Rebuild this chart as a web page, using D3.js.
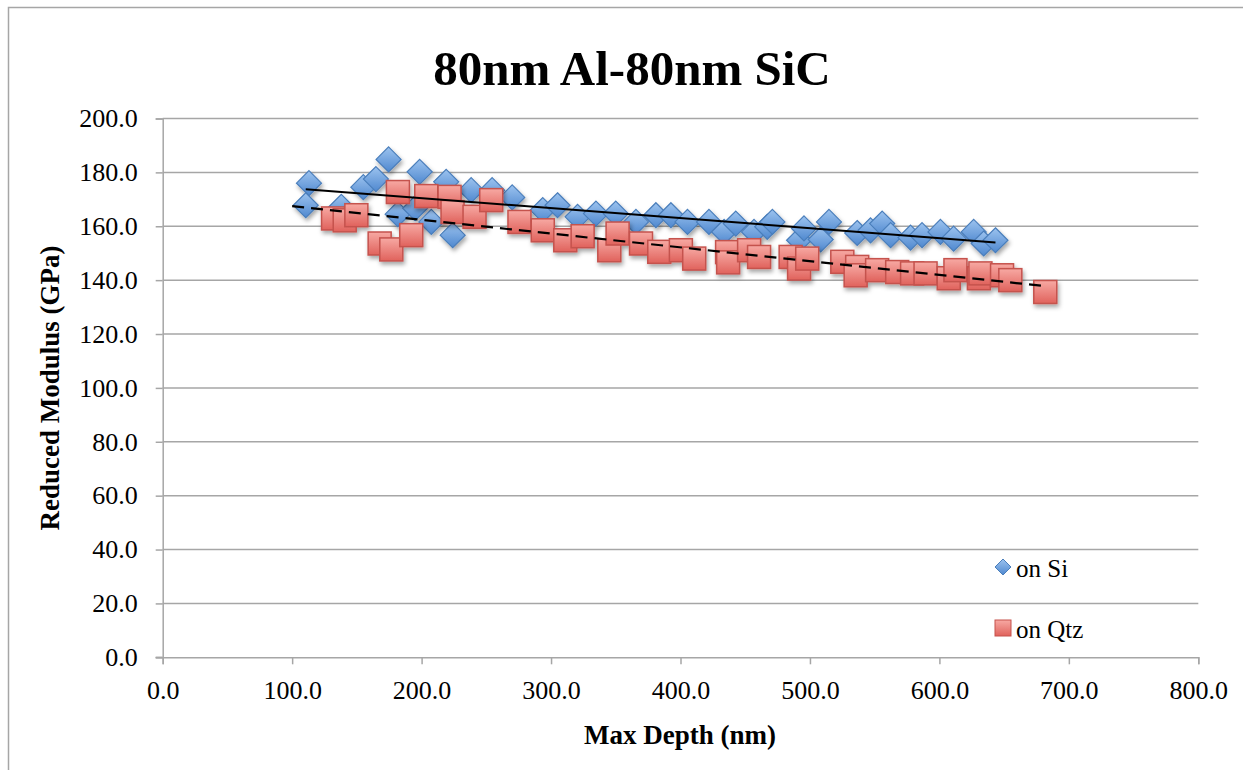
<!DOCTYPE html>
<html>
<head>
<meta charset="utf-8">
<script src="https://cdn.jsdelivr.net/npm/d3@7"></script>
<style>
  html, body { margin: 0; padding: 0; background: #fff; }
  svg { display: block; }
  text { font-family: "Liberation Serif", "Times New Roman", serif; fill: #000; }
</style>
</head>
<body>
<svg id="chart" width="1243" height="770"></svg>
<script>
// Reduced modulus vs. maximum indentation depth, two substrates
const chartTitle = "80nm Al-80nm SiC";
const xTitle = "Max Depth (nm)";
const yTitle = "Reduced Modulus (GPa)";
const seriesNames = ["on Si", "on Qtz"];

const siDepth = [113, 110.5, 138, 155, 164.7, 174.5, 181.5, 195, 198.5, 207.5, 219, 224, 238.3, 254.5, 270,
  293.6, 305, 320.5, 334.7, 350, 365.6, 381, 392.6, 405.4, 422, 433.7, 442.7, 456.8, 467, 471, 491.6,
  495.4, 508.3, 514.7, 536.5, 546.8, 555.8, 562.3, 577.7, 586.6, 600.8, 611, 626.5, 634.2, 643.3];
const siModulus = [176, 167.8, 167.2, 174.5, 177.5, 184.8, 164.5, 166.7, 180.2, 161.6, 176.5, 156.7, 173.4, 173.4, 170.7,
  166, 167.8, 163.5, 164.7, 164.7, 161.6, 164.1, 164.1, 161.6, 161.6, 157.9, 161, 157.9, 159.8, 161.6, 154.8,
  159.2, 155.1, 161.6, 157.5, 158.5, 161, 156.7, 155.8, 156.7, 157.9, 155.4, 157.9, 153.6, 154.8];

const qtzDepth = [131.6, 140.6, 149.6, 167.6, 176.6, 181.7, 192, 203.6, 221.6, 223.9, 240.9, 253.8, 275.6, 293.6,
  311, 324.4, 345, 351.4, 369.5, 383.6, 400.3, 410.6, 436, 436.8, 453, 460.7, 485.1, 491.6, 497.9, 525,
  536.5, 535.3, 551.9, 567.4, 578.9, 589.3, 607.2, 612.4, 630.5, 631.7, 648.4, 654.8, 681.8];
const qtzModulus = [162.9, 162.2, 164.1, 153.6, 151.4, 172.7, 156.7, 171.2, 170.9, 165.3, 163.5, 169.7, 161.6, 158.5,
  154.8, 156.3, 151.1, 157.3, 153.6, 150.5, 151.1, 148, 150.4, 146.6, 151.1, 148.6, 148.6, 144.3, 148, 146.8,
  144.9, 141.8, 143.7, 143, 142.5, 142.5, 140.7, 143.7, 140.7, 142.5, 141.8, 140, 135.6];

// Linear trendline spans (nm); the quartz fit is extended backward to 100 nm
const siTrendSpan = [110.5, 643.3];
const qtzTrendSpan = [100, 681.8];

const xTicks = [0, 100, 200, 300, 400, 500, 600, 700, 800];
const yTicks = [0, 20, 40, 60, 80, 100, 120, 140, 160, 180, 200];

const svg = d3.select("#chart");
const defs = svg.append("defs");

function gradient(id, top, bottom) {
  const g = defs.append("linearGradient").attr("id", id)
    .attr("x1", 0).attr("y1", 0).attr("x2", 0).attr("y2", 1);
  g.append("stop").attr("offset", "0%").attr("stop-color", top);
  g.append("stop").attr("offset", "100%").attr("stop-color", bottom);
}
gradient("blueFill", "#9cc3ef", "#4f88cf");
gradient("redFill", "#f7a9a3", "#e0625c");

const shadow = defs.append("filter").attr("id", "shadow")
  .attr("x", "-50%").attr("y", "-50%").attr("width", "200%").attr("height", "200%");
shadow.append("feDropShadow").attr("dx", 1.5).attr("dy", 3).attr("stdDeviation", 2)
  .attr("flood-color", "#000").attr("flood-opacity", 0.35);

// Outer chart frame
svg.append("rect").attr("x", 8.5).attr("y", 7.5).attr("width", 1400).attr("height", 1000)
  .attr("fill", "none").attr("stroke", "#a6a6a6").attr("stroke-width", 1.5);

const plot = { left: 162.7, right: 1198.3, top: 118.5, bottom: 657.3 };
const x = d3.scaleLinear().domain([0, 800]).range([plot.left, plot.right]);
const y = d3.scaleLinear().domain([0, 200]).range([plot.bottom, plot.top]);

// Horizontal gridlines
svg.append("g").selectAll("line").data(yTicks.filter(d => d > 0)).join("line")
  .attr("x1", plot.left).attr("x2", plot.right)
  .attr("y1", d => y(d)).attr("y2", d => y(d))
  .attr("stroke", "#a6a6a6").attr("stroke-width", 1.5);

// Axes
const fmt = d3.format(".1f");
const yAxis = svg.append("g").attr("transform", `translate(${plot.left},0)`)
  .call(d3.axisLeft(y).tickValues(yTicks).tickFormat(fmt).tickSize(7).tickPadding(18));
const xAxis = svg.append("g").attr("transform", `translate(0,${plot.bottom})`)
  .call(d3.axisBottom(x).tickValues(xTicks).tickFormat(fmt).tickSize(7).tickPadding(16));
[yAxis, xAxis].forEach(a => {
  a.select(".domain").attr("stroke", "#a6a6a6").attr("stroke-width", 1.5);
  a.selectAll(".tick line").attr("stroke", "#a6a6a6").attr("stroke-width", 1.5);
  a.selectAll(".tick text").style("font-family", '"Liberation Serif", serif')
    .style("font-size", "26px").attr("fill", "#000");
});
// x-axis line also runs left past the y axis
svg.append("line").attr("x1", plot.left - 7).attr("x2", plot.left)
  .attr("y1", plot.bottom).attr("y2", plot.bottom)
  .attr("stroke", "#a6a6a6").attr("stroke-width", 1.5);

// Markers
const diamond = s => `M0,${-s}L${s},0L0,${s}L${-s},0Z`;
const siPts = siDepth.map((d, i) => [d, siModulus[i]]);
const qtzPts = qtzDepth.map((d, i) => [d, qtzModulus[i]]);

svg.append("g").attr("filter", "url(#shadow)").selectAll("path").data(siPts).join("path")
  .attr("d", diamond(12.5))
  .attr("transform", d => `translate(${x(d[0])},${y(d[1])})`)
  .attr("fill", "url(#blueFill)").attr("stroke", "#4a7ebb").attr("stroke-width", 1.2);

const sq = 23;
svg.append("g").attr("filter", "url(#shadow)").selectAll("rect").data(qtzPts).join("rect")
  .attr("x", d => x(d[0]) - sq / 2).attr("y", d => y(d[1]) - sq / 2)
  .attr("width", sq).attr("height", sq)
  .attr("fill", "url(#redFill)").attr("stroke", "#c5524d").attr("stroke-width", 1.5);

// Least-squares trendlines
function fit(xs, ys) {
  const mx = d3.mean(xs), my = d3.mean(ys);
  let sxy = 0, sxx = 0;
  xs.forEach((v, i) => { sxy += (v - mx) * (ys[i] - my); sxx += (v - mx) * (v - mx); });
  const m = sxy / sxx;
  return v => my + m * (v - mx);
}
const siFit = fit(siDepth, siModulus);
const qtzFit = fit(qtzDepth, qtzModulus);
const line = d3.line().x(d => x(d[0])).y(d => y(d[1]));

svg.append("path").attr("d", line(siTrendSpan.map(v => [v, siFit(v)])))
  .attr("fill", "none").attr("stroke", "#000").attr("stroke-width", 2);
svg.append("path").attr("d", line(qtzTrendSpan.map(v => [v, qtzFit(v)])))
  .attr("fill", "none").attr("stroke", "#000").attr("stroke-width", 2.2)
  .attr("stroke-dasharray", "12,7");

// Titles
svg.append("text").attr("x", 632).attr("y", 85).attr("text-anchor", "middle")
  .style("font-size", "49px").style("font-weight", "bold").text(chartTitle);
svg.append("text").attr("x", 680).attr("y", 744).attr("text-anchor", "middle")
  .style("font-size", "27px").style("font-weight", "bold").text(xTitle);
svg.append("text").attr("transform", `translate(59,388) rotate(-90)`).attr("text-anchor", "middle")
  .style("font-size", "27px").style("font-weight", "bold").text(yTitle);

// Legend
const legend = svg.append("g");
legend.append("path").attr("d", diamond(8))
  .attr("transform", "translate(1003,567)")
  .attr("fill", "url(#blueFill)").attr("stroke", "#4a7ebb").attr("stroke-width", 1);
legend.append("text").attr("x", 1016).attr("y", 577).style("font-size", "25px").text(seriesNames[0]);
legend.append("rect").attr("x", 995).attr("y", 620).attr("width", 16).attr("height", 16)
  .attr("fill", "url(#redFill)").attr("stroke", "#c5524d").attr("stroke-width", 1);
legend.append("text").attr("x", 1016).attr("y", 638).style("font-size", "25px").text(seriesNames[1]);
</script>
</body>
</html>
